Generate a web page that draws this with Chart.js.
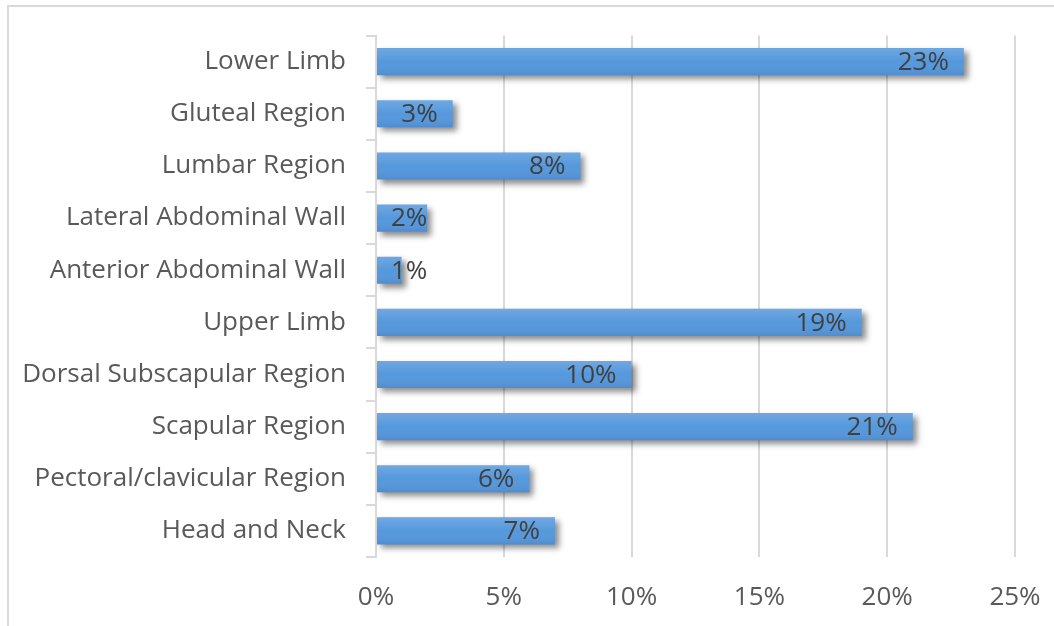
<!DOCTYPE html>
<html>
<head>
<meta charset="utf-8">
<script src="https://cdn.jsdelivr.net/npm/chart.js@4"></script>
<style>
  html, body { margin: 0; padding: 0; background: #fff; }
  #wrap { position: relative; width: 1054px; height: 626px; }
  #frame { position: absolute; left: 7px; top: 5px; right: 0; bottom: 0;
           border-top: 2px solid #d9d9d9; border-left: 2px solid #d9d9d9; }
  canvas { position: absolute; left: 0; top: 0; }
</style>
</head>
<body>
<div id="wrap">
  <div id="frame"></div>
  <canvas id="regions" width="1054" height="626"></canvas>
</div>
<script>
// 部位ごとの割合 (上から順)
var regionLabels = ["Lower Limb", "Gluteal Region", "Lumbar Region", "Lateral Abdominal Wall",
  "Anterior Abdominal Wall", "Upper Limb", "Dorsal Subscapular Region", "Scapular Region",
  "Pectoral/clavicular Region", "Head and Neck"];
var regionValues = [23, 3, 8, 2, 1, 19, 10, 21, 6, 7];
var xTickValues = [0, 5, 10, 15, 20, 25];

var FONT = "'Open Sans', 'DejaVu Sans', sans-serif";

// 影 + グラデーション + ラベル
var barDeco = {
  id: 'barDeco',
  beforeDatasetsDraw: function (chart) {
    var c = chart.ctx;
    c.save();
    c.shadowColor = 'rgba(0,0,0,0.45)';
    c.shadowBlur = 6;
    c.shadowOffsetX = 4;
    c.shadowOffsetY = 4;
  },
  afterDatasetsDraw: function (chart) {
    var c = chart.ctx;
    c.restore();
    var meta = chart.getDatasetMeta(0);
    c.save();
    meta.data.forEach(function (bar, i) {
      var top = bar.y - bar.height / 2;
      var g = c.createLinearGradient(0, top, 0, top + bar.height);
      g.addColorStop(0, 'rgba(255,255,255,0.16)');
      g.addColorStop(0.5, 'rgba(255,255,255,0)');
      g.addColorStop(1, 'rgba(0,0,60,0.08)');
      c.fillStyle = g;
      c.fillRect(bar.base, top, bar.x - bar.base, bar.height);

      var txt = regionValues[i] + '%';
      c.font = '26px ' + FONT;
      c.fillStyle = '#404040';
      c.textBaseline = 'middle';
      c.textAlign = 'left';
      var w = c.measureText(txt).width;
      var left = Math.max(bar.x - 15 - w, bar.base + 14);
      c.fillText(txt, left, bar.y + 1);
    });
    c.restore();
  }
};

var ctx = document.getElementById("regions");
var chart = new Chart(ctx, {
  type: 'bar',
  data: {
    labels: regionLabels,
    datasets: [{
      data: regionValues,
      backgroundColor: '#5598dc',
      borderWidth: 0,
      barPercentage: 0.52,
      categoryPercentage: 1
    }]
  },
  options: {
    indexAxis: 'y',
    responsive: false,
    animation: false,
    layout: { padding: { top: 34, right: 39, left: 0, bottom: 0 } },
    plugins: {
      legend: { display: false },
      tooltip: { enabled: false }
    },
    scales: {
      x: {
        min: 0,
        max: 25,
        afterBuildTicks: function (scale) {
          scale.ticks = xTickValues.map(function (v) { return { value: v }; });
        },
        afterFit: function (scale) {
          scale.height = 69;
          scale.paddingLeft = 0;
          scale.paddingRight = 0;
        },
        grid: { color: '#d9d9d9', lineWidth: 2, drawTicks: false },
        border: { display: false },
        ticks: {
          padding: 25,
          color: '#595959',
          font: { family: FONT, size: 26 },
          callback: function (v) { return v + '%'; }
        }
      },
      y: {
        afterFit: function (scale) { scale.width = 376; },
        grid: { color: '#d9d9d9', lineWidth: 2, drawOnChartArea: false, drawTicks: true, tickLength: 10, offset: true },
        border: { display: true, color: '#d9d9d9', width: 2 },
        ticks: {
          padding: 20,
          color: '#595959',
          font: { family: FONT, size: 26 }
        }
      }
    }
  },
  plugins: [barDeco]
});
</script>
</body>
</html>
